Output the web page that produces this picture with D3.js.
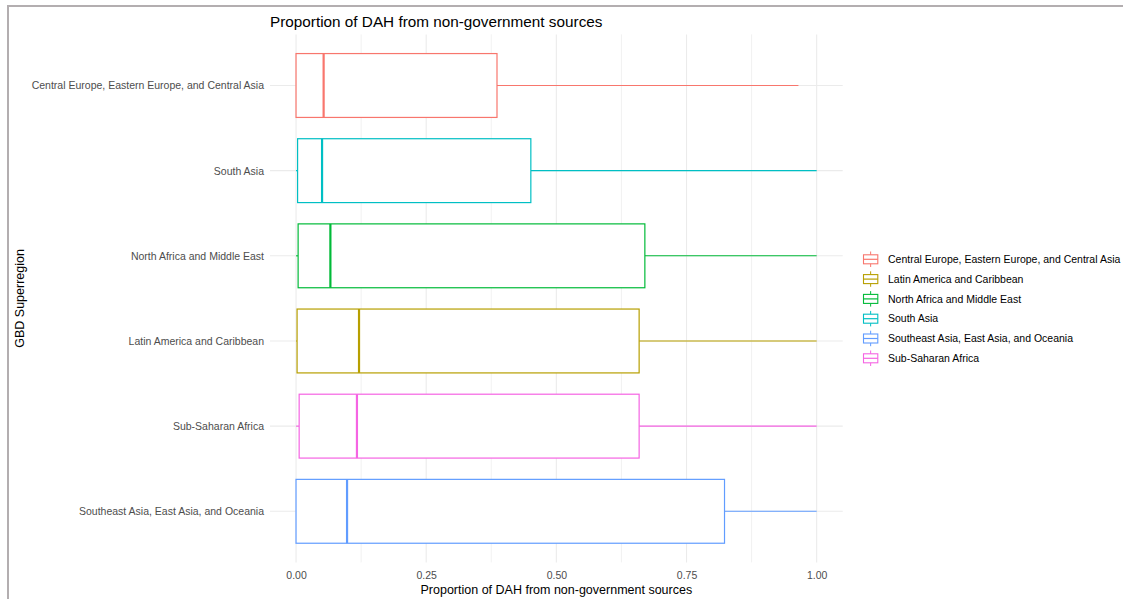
<!DOCTYPE html>
<html>
<head>
<meta charset="utf-8">
<script src="https://cdn.jsdelivr.net/npm/d3@7"></script>
<style>
  html, body { margin: 0; padding: 0; background: #fff; }
  svg { display: block; font-family: "Liberation Sans", Arial, sans-serif; }
</style>
</head>
<body>
<svg id="chart" width="1123" height="599"></svg>
<script>
// Superregions, top to bottom as plotted
const categories = [
  "Central Europe, Eastern Europe, and Central Asia",
  "South Asia",
  "North Africa and Middle East",
  "Latin America and Caribbean",
  "Sub-Saharan Africa",
  "Southeast Asia, East Asia, and Oceania"
];
// Five-number summaries per superregion (same order as categories)
const whiskerLow  = [0.000, 0.000, 0.000, 0.000, 0.000, 0.000];
const quartile1   = [0.000, 0.003, 0.004, 0.002, 0.006, 0.000];
const medians     = [0.053, 0.050, 0.066, 0.121, 0.117, 0.098];
const quartile3   = [0.386, 0.451, 0.670, 0.659, 0.659, 0.823];
const whiskerHigh = [0.965, 1.000, 1.000, 1.000, 1.000, 1.000];

// Legend entries (alphabetical) and their colours
const legendLabels = [
  "Central Europe, Eastern Europe, and Central Asia",
  "Latin America and Caribbean",
  "North Africa and Middle East",
  "South Asia",
  "Southeast Asia, East Asia, and Oceania",
  "Sub-Saharan Africa"
];
const legendColors = ["#F8766D", "#B79F00", "#00BA38", "#00BFC4", "#619CFF", "#F564E3"];

const xTickValues = [0, 0.25, 0.5, 0.75, 1];
const xMinorValues = [0.125, 0.375, 0.625, 0.875];
const xTickLabels = ["0.00", "0.25", "0.50", "0.75", "1.00"];

const titleText = "Proportion of DAH from non-government sources";
const xTitle = "Proportion of DAH from non-government sources";
const yTitle = "GBD Superregion";

const svg = d3.select("#chart");
const panel = { left: 270, right: 842.7, top: 34.4, bottom: 562.4 };

const x = d3.scaleLinear().domain([-0.05, 1.05]).range([panel.left, panel.right]);
const y = d3.scalePoint().domain(categories).range([panel.top, panel.bottom]).padding(0.6);
const color = d3.scaleOrdinal().domain(legendLabels).range(legendColors);
const boxH = y.step() * 0.75;

// frame lines along the top and left edges
svg.append("line").attr("x1", 8).attr("x2", 1123).attr("y1", 6).attr("y2", 6)
  .attr("stroke", "#b3aeb0").attr("stroke-width", 2);
svg.append("line").attr("x1", 8).attr("x2", 8).attr("y1", 5).attr("y2", 599)
  .attr("stroke", "#b3aeb0").attr("stroke-width", 2);

// grid
const grid = svg.append("g");
grid.selectAll(".minor").data(xMinorValues).join("line")
  .attr("x1", d => x(d)).attr("x2", d => x(d))
  .attr("y1", panel.top).attr("y2", panel.bottom)
  .attr("stroke", "#ebebeb").attr("stroke-width", 0.7);
grid.selectAll(".major").data(xTickValues).join("line")
  .attr("x1", d => x(d)).attr("x2", d => x(d))
  .attr("y1", panel.top).attr("y2", panel.bottom)
  .attr("stroke", "#ebebeb").attr("stroke-width", 1.1);
grid.selectAll(".hmajor").data(categories).join("line")
  .attr("x1", panel.left).attr("x2", panel.right)
  .attr("y1", d => y(d)).attr("y2", d => y(d))
  .attr("stroke", "#ebebeb").attr("stroke-width", 1.1);

// boxplots
const rows = categories.map((c, i) => ({
  name: c, lo: whiskerLow[i], q1: quartile1[i], med: medians[i], q3: quartile3[i], hi: whiskerHigh[i]
}));
const boxes = svg.append("g").selectAll("g").data(rows).join("g")
  .attr("stroke", d => color(d.name));
boxes.append("line")
  .attr("x1", d => x(d.q3)).attr("x2", d => x(d.hi))
  .attr("y1", d => y(d.name)).attr("y2", d => y(d.name)).attr("stroke-width", 1.1);
boxes.append("line")
  .attr("x1", d => x(d.lo)).attr("x2", d => x(d.q1))
  .attr("y1", d => y(d.name)).attr("y2", d => y(d.name)).attr("stroke-width", 1.1);
boxes.append("rect")
  .attr("x", d => x(d.q1)).attr("width", d => x(d.q3) - x(d.q1))
  .attr("y", d => y(d.name) - boxH / 2).attr("height", boxH)
  .attr("fill", "#fff").attr("stroke-width", 1.2);
boxes.append("line")
  .attr("x1", d => x(d.med)).attr("x2", d => x(d.med))
  .attr("y1", d => y(d.name) - boxH / 2).attr("y2", d => y(d.name) + boxH / 2)
  .attr("stroke-width", 2.2);

// axes
const xAxis = svg.append("g").attr("transform", `translate(0,${panel.bottom})`)
  .call(d3.axisBottom(x).tickValues(xTickValues).tickFormat((d, i) => xTickLabels[i]).tickSize(0).tickPadding(9));
const yAxis = svg.append("g").attr("transform", `translate(${panel.left},0)`)
  .call(d3.axisLeft(y).tickSize(0).tickPadding(6));
[xAxis, yAxis].forEach(a => {
  a.select(".domain").remove();
  a.selectAll("text").attr("fill", "#4d4d4d").style("font-size", "10.5px")
    .style("font-family", "'Liberation Sans', Arial, sans-serif");
});

// titles
svg.append("text").attr("x", panel.left).attr("y", 27)
  .style("font-size", "15.3px").attr("fill", "#000").text(titleText);
svg.append("text").attr("x", (x(0) + x(1)) / 2).attr("y", 594)
  .attr("text-anchor", "middle").style("font-size", "12.5px").attr("fill", "#000").text(xTitle);
svg.append("text").attr("transform", `translate(24,${(panel.top + panel.bottom) / 2}) rotate(-90)`)
  .attr("text-anchor", "middle").style("font-size", "12.5px").attr("fill", "#000").text(yTitle);

// legend
const legend = svg.append("g").attr("transform", "translate(862,250)");
const keyW = 17.3, keyStep = 19.8;
const items = legend.selectAll("g").data(legendLabels).join("g")
  .attr("transform", (d, i) => `translate(0,${i * keyStep})`);
items.each(function (d) {
  const g = d3.select(this), c = color(d);
  g.append("line").attr("x1", keyW / 2).attr("x2", keyW / 2).attr("y1", 1.5).attr("y2", 17)
    .attr("stroke", c).attr("stroke-width", 1);
  g.append("rect").attr("x", 1.5).attr("y", 4.8).attr("width", keyW - 3).attr("height", 9)
    .attr("fill", "#fff").attr("stroke", c).attr("stroke-width", 1.1);
  g.append("line").attr("x1", 1.5).attr("x2", keyW - 1.5).attr("y1", 9.3).attr("y2", 9.3)
    .attr("stroke", c).attr("stroke-width", 1.2);
  g.append("text").attr("x", 26).attr("y", 9.3).attr("dy", "0.35em")
    .style("font-size", "10.5px").attr("fill", "#000").text(d);
});
</script>
</body>
</html>
